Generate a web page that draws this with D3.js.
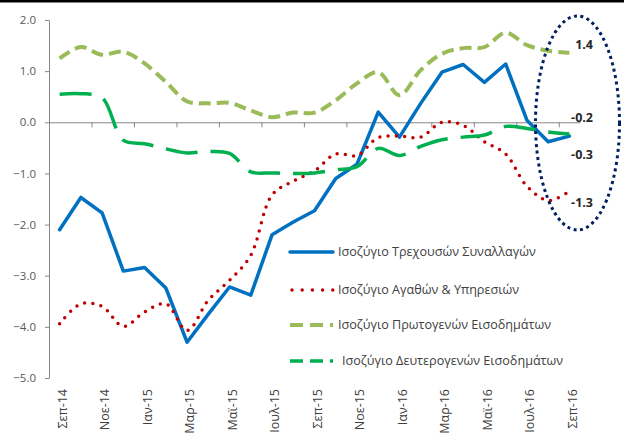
<!DOCTYPE html>
<html>
<head>
<meta charset="utf-8">
<script src="https://cdn.jsdelivr.net/npm/d3@7"></script>
<style>
  body { margin: 0; background: #fff; }
  svg text { font-family: "Open Sans", "Noto Sans", sans-serif; }
</style>
</head>
<body>
<div id="chart"></div>
<script>
"use strict";

const months = ["Σεπ-14", "Οκτ-14", "Νοε-14", "Δεκ-14", "Ιαν-15", "Φεβ-15", "Μαρ-15",
  "Απρ-15", "Μαϊ-15", "Ιουν-15", "Ιουλ-15", "Αυγ-15", "Σεπ-15", "Οκτ-15", "Νοε-15",
  "Δεκ-15", "Ιαν-16", "Φεβ-16", "Μαρ-16", "Απρ-16", "Μαϊ-16", "Ιουν-16", "Ιουλ-16",
  "Αυγ-16", "Σεπ-16"];

const currentAccount = [-2.1, -1.47, -1.77, -2.91, -2.84, -3.24, -4.3, -3.75, -3.22, -3.38,
  -2.2, -1.95, -1.73, -1.1, -0.82, 0.2, -0.29, 0.37, 0.98, 1.13, 0.78, 1.14, 0.04, -0.38, -0.27];
const goodsServices = [-3.94, -3.55, -3.6, -3.99, -3.71, -3.55, -4.07, -3.48, -3.09, -2.6,
  -1.42, -1.15, -0.95, -0.62, -0.65, -0.3, -0.27, -0.29, 0.0, -0.06, -0.38, -0.62, -1.25, -1.53, -1.35];
const primaryIncome = [1.25, 1.47, 1.32, 1.38, 1.15, 0.79, 0.41, 0.37, 0.38, 0.23,
  0.1, 0.19, 0.19, 0.43, 0.76, 0.98, 0.53, 1.02, 1.34, 1.45, 1.47, 1.75, 1.51, 1.4, 1.36];
const secondaryIncome = [0.55, 0.56, 0.48, -0.35, -0.42, -0.52, -0.6, -0.57, -0.61, -0.97,
  -0.99, -1.0, -0.99, -0.93, -0.87, -0.51, -0.65, -0.47, -0.34, -0.29, -0.25, -0.08, -0.12, -0.19, -0.23];

const yTicks = [-5, -4, -3, -2, -1, 0, 1, 2];
const endLabels = ["1.4", "-0.2", "-0.3", "-1.3"];

const series = [
  { name: "Ισοζύγιο Τρεχουσών Συναλλαγών", values: currentAccount, color: "#0070C0",
    width: 3.5, dash: null, cap: "round", smooth: false },
  { name: "Ισοζύγιο Αγαθών & Υπηρεσιών", values: goodsServices, color: "#C00000",
    width: 3.5, dash: "0 8.3", cap: "round", smooth: true },
  { name: "Ισοζύγιο Πρωτογενών Εισοδημάτων", values: primaryIncome, color: "#9BBB59",
    width: 4, dash: "12 6", cap: "butt", smooth: true },
  { name: "Ισοζύγιο Δευτερογενών Εισοδημάτων", values: secondaryIncome, color: "#00B050",
    width: 3.5, dash: "32 13", cap: "butt", smooth: true }
];

const W = 624, H = 439;
const svg = d3.select("#chart").append("svg").attr("width", W).attr("height", H);

// top rule
svg.append("line").attr("x1", 0).attr("x2", W).attr("y1", 1.2).attr("y2", 1.2)
  .attr("stroke", "#000").attr("stroke-width", 2.5);

const x = d3.scaleBand().domain(months).range([49, 580]).padding(0);
const xi = d3.scaleLinear().domain([-0.5, months.length - 0.5]).range([49, 580]);
const y = d3.scaleLinear().domain([-5, 2]).range([378, 20]);
const cx = (m) => x(m) + x.bandwidth() / 2;

// y axis
const yAxis = svg.append("g").attr("transform", "translate(49,0)")
  .call(d3.axisLeft(y).tickValues(yTicks).tickFormat(d3.format(".1f")).tickSize(4).tickSizeOuter(0));
yAxis.select(".domain").attr("stroke", "#868686");
yAxis.selectAll(".tick line").attr("stroke", "#868686");
yAxis.selectAll(".tick text").attr("x", -13).attr("fill", "#595959")
  .style("font-size", "11.5px").text((d) => d3.format(".1f")(d));

// x axis on the zero line
const xTickVals = d3.range(-0.5, months.length - 0.5, 2);
const xAxis = svg.append("g").attr("transform", `translate(0,${y(0)})`)
  .call(d3.axisBottom(xi).tickValues(xTickVals).tickSize(5).tickSizeOuter(0).tickFormat(""));
xAxis.select(".domain").attr("stroke", "#868686");
xAxis.selectAll(".tick line").attr("stroke", "#868686");

// month labels at the bottom, every second month
svg.append("g").selectAll("text")
  .data(months.filter((m, i) => i % 2 === 0))
  .join("text")
  .attr("transform", (m) => `translate(${cx(m) + 3},389) rotate(-90)`)
  .attr("text-anchor", "end")
  .attr("dy", "0.35em")
  .attr("fill", "#404040")
  .style("font-size", "12.5px")
  .text((m) => m);

// lines
const plot = svg.append("g");
series.forEach((s) => {
  const line = d3.line()
    .x((d, i) => cx(months[i]))
    .y((d) => y(d))
    .curve(s.smooth ? d3.curveCatmullRom.alpha(0.5) : d3.curveLinear);
  plot.append("path")
    .datum(s.values)
    .attr("d", line)
    .attr("fill", "none")
    .attr("stroke", s.color)
    .attr("stroke-width", s.width)
    .attr("stroke-linecap", s.cap)
    .attr("stroke-linejoin", "round")
    .attr("stroke-dasharray", s.dash);
});

// legend
const legend = svg.append("g");
const legendY = [252, 290, 325, 361];
series.forEach((s, i) => {
  const g = legend.append("g").attr("transform", `translate(290,${legendY[i]})`);
  g.append("line")
    .attr("x1", s.cap === "round" && s.dash ? 2 : 0).attr("x2", 43)
    .attr("stroke", s.color)
    .attr("stroke-width", s.width)
    .attr("stroke-linecap", s.cap)
    .attr("stroke-dasharray", s.dash ? (s.cap === "round" ? "0 10.2" : "13 7") : null);
  g.append("text")
    .attr("x", i === 3 ? 52 : 48).attr("dy", "0.35em")
    .attr("fill", "#404040")
    .style("font-size", "12.6px")
    .text(s.name);
});

// annotation ellipse and end values
svg.append("ellipse")
  .attr("cx", 577.5).attr("cy", 123).attr("rx", 42).attr("ry", 107)
  .attr("fill", "none").attr("stroke", "#002060").attr("stroke-width", 3)
  .attr("stroke-dasharray", "3 3.5");

const labelY = [45, 118, 155, 203];
svg.append("g").selectAll("text")
  .data(endLabels)
  .join("text")
  .attr("x", 593).attr("y", (d, i) => labelY[i])
  .attr("dy", "0.35em")
  .attr("text-anchor", "end")
  .attr("fill", "#262626")
  .style("font-size", "12.5px")
  .style("font-weight", "bold")
  .text((d) => d);
</script>
</body>
</html>
